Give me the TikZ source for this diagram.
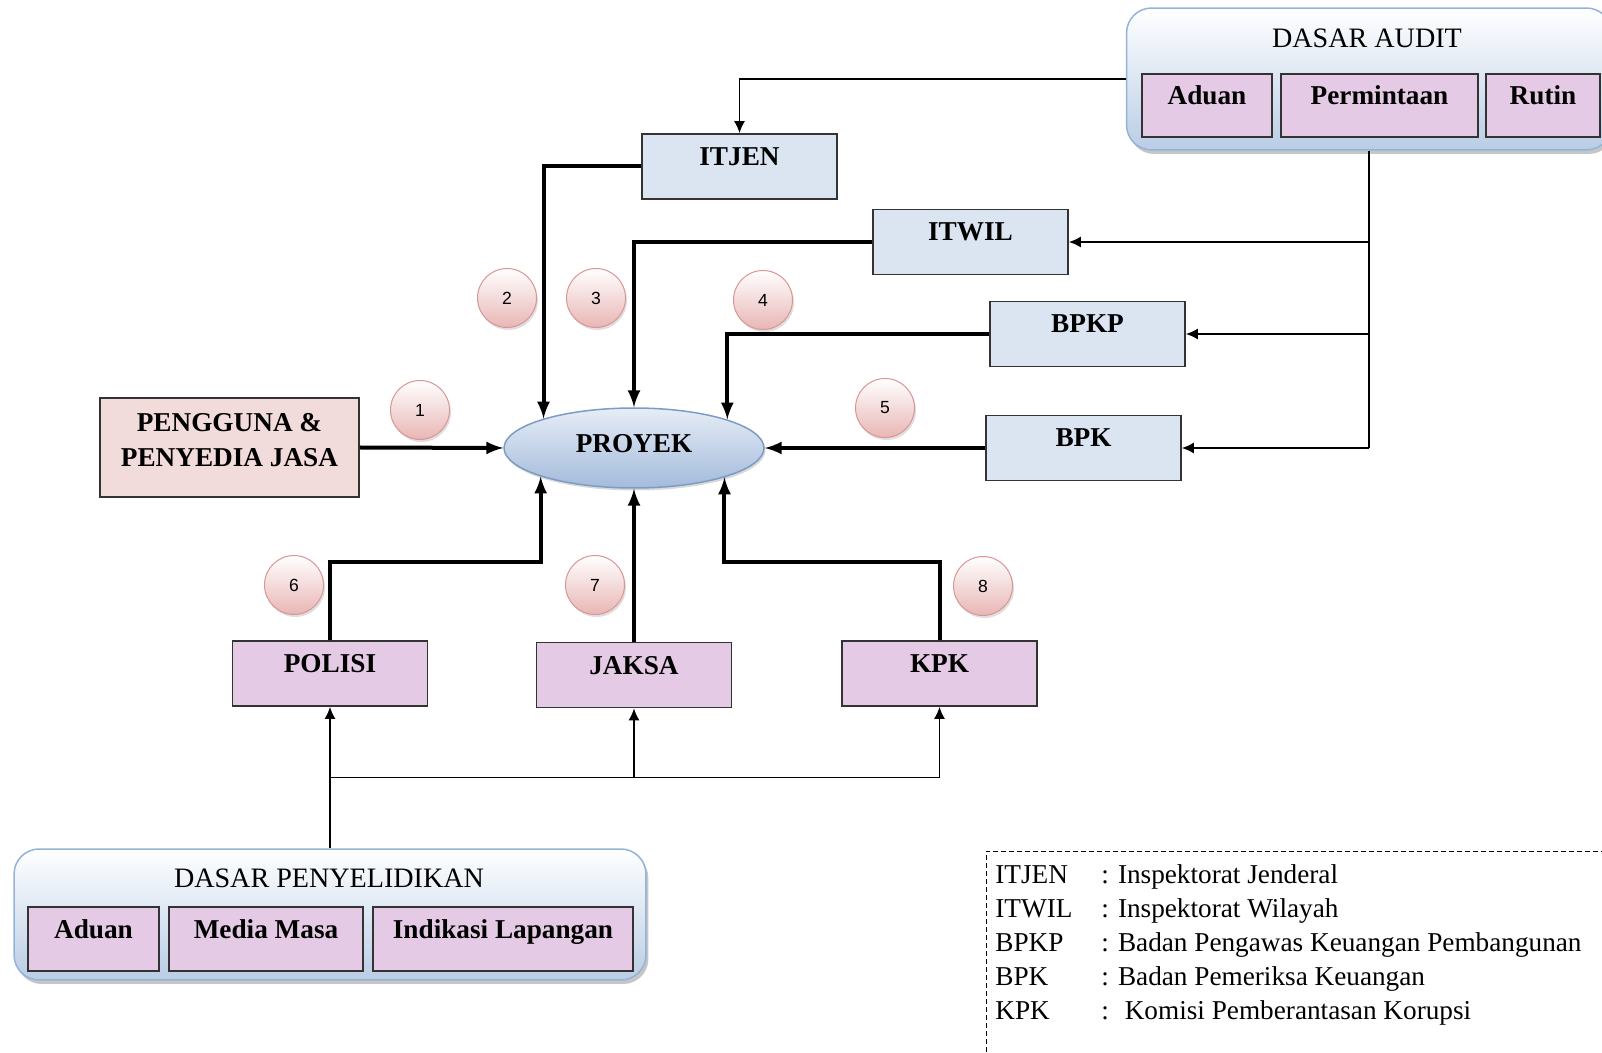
\documentclass[tikz,border=0pt]{standalone}
\usepackage{fontspec}
\setmainfont{Liberation Serif}
\newfontfamily\angka{Liberation Sans}
\usepackage{tikz}
\usetikzlibrary{shapes,shadows,calc,arrows.meta}
\definecolor{kotakbiru}{RGB}{219,229,241}
\definecolor{kotakungu}{RGB}{229,202,229}
\definecolor{kotakmerah}{RGB}{242,220,219}
\definecolor{wadahbawah}{RGB}{185,205,229}
\definecolor{wadahgaris}{RGB}{149,179,215}
\definecolor{elipsatas}{RGB}{230,237,246}
\definecolor{elipsbawah}{RGB}{163,187,219}
\definecolor{elipsgaris}{RGB}{124,156,196}
\definecolor{bulatbawah}{RGB}{232,182,181}
\definecolor{bulatgaris}{RGB}{217,150,148}

\tikzset{
  kotak/.style={draw=black!80, line width=0.035cm, minimum width=3.9cm, minimum height=1.3cm,
    inner sep=0pt, font=\fontsize{15.5}{20}\selectfont\bfseries,
    text height=0.36cm, text depth=0.4cm},
  kotakisi/.style={kotak, fill=kotakungu, minimum height=1.27cm},
  wadah/.style={draw=wadahgaris, line width=0.03cm, rounded corners=0.5cm,
    top color=white, bottom color=wadahbawah,
    drop shadow={shadow xshift=0.05cm, shadow yshift=-0.08cm, opacity=0.45}},
  judul/.style={font=\fontsize{16}{20}\selectfont},
  nomor/.style={circle, minimum size=1.18cm, inner sep=0pt, draw=bulatgaris, line width=0.02cm,
    top color=white, bottom color=bulatbawah, font=\angka\fontsize{10}{12}\selectfont,
    drop shadow={shadow xshift=0.03cm, shadow yshift=-0.05cm, opacity=0.25}},
  tebal/.style={line width=0.08cm, -latex},
  tipis/.style={line width=0.03cm, -{Latex[length=0.24cm, width=0.22cm]}},
  ket/.style={anchor=base west, inner sep=0pt, font=\fontsize{15.5}{20}\selectfont}
}

\begin{document}
\begin{tikzpicture}[x=0.02cm, y=-0.02cm]
    \useasboundingbox (0,0) rectangle (1602,1053);
    \clip (0,0) rectangle (1602,1053); % kotak audit keluar di kanan

    % dasar audit (kanan atas)
    \node[wadah, minimum width=9.7cm, minimum height=2.84cm] (audit) at (1369,79) {};
    \node[judul] (judulaudit) at (1367,38) {DASAR AUDIT};
    \node[kotakisi, minimum width=2.6cm] (aduanA) at (1207,105.5) {Aduan};
    \node[kotakisi, minimum width=3.94cm] (permintaan) at (1379.5,105.5) {Permintaan};
    \node[kotakisi, minimum width=2.28cm] (rutin) at (1543,105.5) {Rutin};

    % instansi pemeriksa
    \node[kotak, fill=kotakbiru] (itjen) at (739.5,166.5) {ITJEN};
    \node[kotak, fill=kotakbiru] (itwil) at (970.5,242) {ITWIL};
    \node[kotak, fill=kotakbiru] (bpkp) at (1087.5,334) {BPKP};
    \node[kotak, fill=kotakbiru] (bpk) at (1083.5,448) {BPK};

    % proyek di tengah
    \node[ellipse, minimum width=5.2cm, minimum height=1.6cm, draw=elipsgaris, line width=0.03cm,
      top color=elipsatas, bottom color=elipsbawah, inner sep=0pt,
      font=\fontsize{15.5}{20}\selectfont\bfseries, text height=0.36cm, text depth=0.18cm,
      drop shadow={shadow xshift=0.03cm, shadow yshift=-0.05cm, opacity=0.3}] (proyek) at (634,448) {PROYEK};

    \node[kotak, fill=kotakmerah, minimum width=5.18cm, minimum height=1.98cm,
      text height=1.07cm, text depth=0.32cm] (pengguna) at (229.5,447.5)
      {\begin{tabular}[b]{@{}c@{}}PENGGUNA \&\\PENYEDIA JASA\end{tabular}};

    % penyidik
    \node[kotak, fill=kotakungu] (polisi) at (330,673.5) {POLISI};
    \node[kotak, fill=kotakungu] (jaksa) at (634,675) {JAKSA};
    \node[kotak, fill=kotakungu] (kpk) at (939.5,673.5) {KPK};

    % dasar penyelidikan (kiri bawah)
    \node[wadah, minimum width=12.64cm, minimum height=2.62cm] (penyelidikan) at (330,914.5) {};
    \node[judul] (judulsidik) at (329,878) {DASAR PENYELIDIKAN};
    \node[kotakisi, minimum width=2.62cm] (aduanB) at (93.5,939) {Aduan};
    \node[kotakisi, minimum width=3.88cm] (media) at (266,939) {Media Masa};
    \node[kotakisi, minimum width=5.2cm] (indikasi) at (503,939) {Indikasi Lapangan};

    % garis dari dasar audit
    \draw[tipis] (audit.west) -| (itjen.north);
    \coordinate (cabang) at (audit.south |- bpk.east);
    \draw[line width=0.03cm] (audit.south) -- (cabang);
    \draw[tipis] (audit.south |- itwil.east) -- (itwil.east);
    \draw[tipis] (audit.south |- bpkp.east) -- (bpkp.east);
    \draw[tipis] (cabang) -- (bpk.east);

    % panah tebal ke proyek
    \draw[tebal] (pengguna.east) -- (proyek.west);
    \draw[tebal] (itjen.west) -| (proyek.162.6);
    \draw[tebal] (itwil.west) -| (proyek.north);
    \draw[tebal] (bpkp.west) -| (proyek.17.4);
    \draw[tebal] (bpk.west) -- (proyek.east);
    \draw[tebal] (polisi.north) -- ++(0,-78) -| (proyek.197.4);
    \draw[tebal] (jaksa.north) -- (proyek.south);
    \draw[tebal] (kpk.north) -- ++(0,-78) -| (proyek.342.6);

    % garis dari dasar penyelidikan
    \draw[line width=0.03cm] (penyelidikan.north) -- ++(0,-71) coordinate (bagi);
    \draw[tipis] (bagi) -- (polisi.south);
    \draw[tipis] (bagi) -| (kpk.south);
    \draw[tipis] (bagi -| jaksa.south) -- (jaksa.south);

    \foreach \n/\px/\py in {1/420/410, 2/507/298, 3/596/298, 4/763/300,
                            5/885/408, 6/294/585, 7/595/585, 8/983/586}{%
      \node[nomor] (no\n) at (\px,\py) {\n};
    }

    % keterangan singkatan
    \draw[line width=0.02cm, dash pattern=on 0.1cm off 0.06cm] (986,1060) -- (986,851) -- (1610,851);
    \foreach \singkat/\arti [count=\k from 0] in {ITJEN/{: Inspektorat Jenderal},
        ITWIL/{: Inspektorat Wilayah}, BPKP/{: Badan Pengawas Keuangan Pembangunan},
        BPK/{: Badan Pemeriksa Keuangan}, KPK/{:~ Komisi Pemberantasan Korupsi}}{%
      \node[ket] (singkat\k) at (995,883+34.2*\k) {\singkat};
      \node[ket] (arti\k) at (1101,883+34.2*\k) {\arti};
    }
\end{tikzpicture}
\end{document}
